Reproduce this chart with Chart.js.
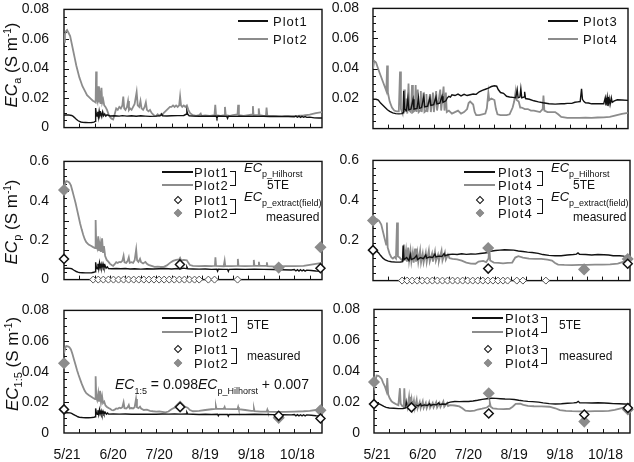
<!DOCTYPE html>
<html>
<head>
<meta charset="utf-8">
<script src="https://cdn.jsdelivr.net/npm/chart.js@4.4.1/dist/chart.umd.min.js"></script>
<style>
body { margin:0; width:634px; height:462px; position:relative; overflow:hidden; background:#fff;
       font-family:"Liberation Sans", Arial, sans-serif; color:#111; }
canvas { position:absolute; }
.t { position:absolute; line-height:1; white-space:nowrap; transform:translateY(-50%); font-size:13px; }
.pl { letter-spacing:1px; }
.ln { position:absolute; height:0; border-top:2px solid; }
.br { position:absolute; width:5px; border:1.5px solid #111; border-left:none; }
.dm { position:absolute; width:6px; height:6px; transform:translate(-50%,-50%) rotate(45deg); box-sizing:border-box; }
.yt { position:absolute; font-size:17px; line-height:1; white-space:nowrap; transform:translate(-50%,-50%) rotate(-90deg); }
.sb { font-size:11px; position:relative; top:4px; }
.sp { font-size:10px; position:relative; top:-6px; }
.ss { font-size:9px; position:relative; top:5px; }
</style>
</head>
<body>
<canvas id="tl"></canvas>
<canvas id="tr"></canvas>
<canvas id="ml"></canvas>
<canvas id="mr"></canvas>
<canvas id="bl"></canvas>
<canvas id="br"></canvas>
<script>
// days counted from 5/21
const dateDays = [0, 30, 60, 90, 120, 150];
const dateLabels = ['5/21', '6/20', '7/20', '8/19', '9/18', '10/18'];
const ecTicks = ['0', '0.02', '0.04', '0.06', '0.08'];
const ecTicksNoZero = ['', '0.02', '0.04', '0.06', '0.08'];
const ecpTicks = ['0', '0.2', '0.4', '0.6'];
const ecpTicksNoZero = ['', '0.2', '0.4', '0.6'];

/* ===== ECa ===== */
const ecaPlot1 = [[0,0.0084],[1,0.0086],[2,0.0085],[3,0.0086],[4,0.0084],[5,0.0082],[6,0.0076],[7,0.0066],[8,0.0056],[9,0.0048],[10,0.0042],[11,0.0038],[12,0.0036],[14,0.0035],[16,0.0034],[18,0.0035],[19.5,0.0037],[20.3,0.0042],[20.6,0.0132],[21,0.0095],[21.5,0.0078],[22,0.0108],[22.4,0.0072],[22.9,0.0112],[23.4,0.0080],[24,0.0098],[24.6,0.0074],[25.2,0.0106],[25.8,0.0080],[26.5,0.0092],[27.2,0.0078],[28,0.0086],[30,0.0079],[33,0.0080],[36,0.0078],[38,0.0081],[41,0.0078],[44,0.0080],[47,0.0077],[50,0.0080],[53,0.0078],[56,0.0076],[60,0.0078],[63,0.0081],[63.6,0.0092],[64.2,0.0080],[67,0.0079],[70,0.0080],[74,0.0081],[78,0.0082],[79.5,0.0090],[80,0.0112],[80.6,0.0090],[81.5,0.0080],[84,0.0078],[88,0.0077],[92,0.0078],[96,0.0077],[99,0.0078],[99.6,0.0064],[100.2,0.0078],[103,0.0077],[106,0.0076],[106.5,0.0063],[107,0.0077],[110,0.0076],[114,0.0077],[118,0.0076],[122,0.0077],[126,0.0076],[130,0.0077],[134,0.0075],[138,0.0076],[142,0.0074],[146,0.0075],[150,0.0073],[151,0.0078],[152,0.0070],[153,0.0077],[154,0.0069],[155,0.0076],[156,0.0070],[157,0.0075],[158,0.0069],[160,0.0071],[163,0.0066],[166,0.0065],[168,0.0065]];
const ecaPlot2 = [[0,0.058],[0.6,0.063],[1.2,0.065],[2,0.066],[3,0.064],[4,0.062],[5,0.057],[6,0.052],[7,0.047],[8,0.042],[9,0.038],[10,0.034],[11,0.031],[12,0.028],[13,0.026],[14,0.024],[15,0.022],[16,0.021],[17,0.020],[18,0.019],[19,0.018],[20,0.0175],[20.6,0.017],[20.9,0.038],[21.3,0.020],[21.8,0.018],[22.3,0.028],[22.7,0.017],[23.3,0.022],[23.8,0.016],[24.4,0.027],[24.9,0.017],[25.5,0.019],[26.2,0.015],[27,0.014],[28,0.012],[29,0.009],[30,0.007],[31,0.006],[32,0.0055],[33,0.009],[34,0.013],[35,0.012],[36,0.014],[37,0.013],[38,0.015],[38.6,0.021],[39.2,0.013],[40,0.012],[41,0.014],[41.7,0.018],[42.3,0.012],[43,0.013],[44,0.012],[45,0.014],[46,0.016],[47.3,0.024],[48,0.015],[49,0.014],[49.8,0.018],[50.5,0.013],[51.5,0.012],[52.5,0.014],[53.3,0.017],[54,0.012],[55,0.011],[56,0.012],[57,0.010],[58,0.009],[59,0.008],[60,0.008],[61,0.009],[62,0.008],[63,0.009],[64,0.0085],[65,0.010],[66,0.011],[67,0.012],[68,0.013],[69,0.014],[70,0.014],[71,0.015],[72,0.014],[73,0.015],[74,0.014],[75,0.015],[75.6,0.021],[76.2,0.015],[77,0.014],[78,0.015],[79,0.014],[80,0.015],[81,0.012],[82,0.010],[83,0.009],[84,0.0085],[86,0.008],[88,0.0085],[89,0.0095],[89.5,0.008],[92,0.0082],[95,0.008],[98,0.0085],[98.5,0.0155],[99,0.0085],[102,0.008],[104.4,0.0085],[104.8,0.014],[105.3,0.0085],[108,0.008],[110,0.0085],[113,0.009],[113.4,0.0155],[113.9,0.0085],[117,0.008],[120,0.0085],[122.7,0.009],[123,0.0145],[123.4,0.0085],[126.4,0.0085],[126.8,0.013],[127.3,0.0085],[130,0.008],[131.5,0.008],[131.9,0.0135],[132.4,0.008],[136,0.008],[140,0.0078],[144,0.008],[148,0.0078],[152,0.008],[156,0.0082],[160,0.0088],[164,0.0098],[168,0.0105]];
const ecaPlot3 = [[0,0.0195],[2,0.0195],[3.5,0.019],[5,0.017],[6.5,0.0155],[8,0.014],[9.5,0.0125],[11,0.0115],[13,0.0105],[15,0.0100],[17,0.0098],[19,0.0100],[19.8,0.0105],[20.2,0.0250],[20.8,0.0130],[22,0.0120],[23,0.0200],[23.6,0.0125],[25,0.0130],[26.4,0.0195],[27,0.0130],[29,0.0135],[30,0.0205],[30.6,0.0135],[32,0.0140],[33.5,0.0215],[34.1,0.0145],[36,0.0150],[37.5,0.0205],[38.1,0.0155],[40,0.0160],[41.5,0.0210],[42.1,0.0165],[44,0.0170],[45.5,0.0215],[46.1,0.0175],[48,0.0185],[49,0.0205],[50,0.0215],[51,0.0210],[52,0.0225],[54,0.0220],[56,0.0230],[58,0.0218],[60,0.0228],[62,0.0220],[64,0.0225],[66,0.0230],[68,0.0228],[70,0.0245],[72,0.0255],[74,0.0262],[76,0.0270],[78,0.0280],[80,0.0285],[81.5,0.0282],[82.5,0.0260],[84,0.0240],[86,0.0235],[88,0.0215],[90,0.0210],[92,0.0208],[94,0.0205],[95,0.0260],[95.6,0.0205],[96.8,0.0210],[97.4,0.0265],[98,0.0205],[99.5,0.0210],[99.9,0.0245],[100.5,0.0200],[103,0.0195],[106,0.0185],[109,0.0178],[112,0.0172],[116,0.0165],[120,0.0163],[124,0.0165],[126,0.0165],[128,0.0168],[131,0.0168],[133,0.0175],[135,0.0178],[136.5,0.0180],[137.4,0.0265],[138,0.0195],[139,0.0180],[140,0.0172],[142,0.0170],[144,0.0165],[148,0.0165],[152,0.0165],[153,0.0205],[153.5,0.0155],[154.3,0.0210],[154.8,0.0150],[155.6,0.0200],[156.2,0.0160],[157,0.0205],[157.6,0.0175],[159,0.0185],[161,0.0192],[164,0.0190],[168,0.0188]];
const ecaPlot4 = [[0,0.040],[0.8,0.045],[2,0.044],[3,0.041],[4.4,0.037],[5.5,0.034],[6.6,0.031],[7.7,0.028],[8.8,0.025],[9.3,0.042],[9.8,0.024],[11,0.018],[12.5,0.014],[14,0.012],[15.5,0.0115],[17,0.0115],[17.8,0.038],[18.4,0.013],[19.5,0.010],[20.5,0.026],[21,0.011],[22,0.020],[22.6,0.010],[23.4,0.030],[24,0.012],[25,0.011],[25.7,0.029],[26.3,0.011],[27.5,0.012],[28.1,0.029],[28.7,0.011],[29.5,0.026],[30.1,0.011],[31,0.012],[31.5,0.025],[32.1,0.011],[33.3,0.024],[33.9,0.011],[35,0.012],[35.2,0.023],[35.8,0.011],[37.5,0.023],[38.1,0.011],[39.5,0.024],[40.1,0.011],[41.6,0.025],[42.2,0.012],[44.3,0.026],[44.9,0.012],[46.5,0.028],[47.1,0.012],[48,0.024],[48.6,0.011],[50,0.012],[52,0.010],[54,0.011],[56,0.012],[58,0.010],[60,0.011],[62,0.013],[63,0.017],[64,0.018],[66,0.016],[67,0.011],[68,0.009],[70,0.009],[72,0.0095],[74,0.010],[75,0.0135],[76,0.024],[76.6,0.019],[78,0.020],[80,0.019],[81,0.013],[82,0.0095],[84,0.009],[86,0.009],[88,0.009],[90,0.0095],[92,0.014],[93,0.018],[94,0.025],[94.6,0.019],[96,0.018],[97,0.014],[98,0.014],[100,0.013],[102,0.013],[104,0.012],[106,0.012],[110,0.011],[111.8,0.013],[112.3,0.022],[112.9,0.012],[115,0.011],[120,0.011],[122,0.0095],[124,0.0078],[128,0.0072],[132,0.0072],[136,0.0072],[140,0.0073],[144,0.0072],[148,0.0074],[152,0.0075],[156,0.0078],[160,0.0088],[164,0.0098],[168,0.0105]];

/* ===== ECp ===== */
const ecpPlot1 = [[0,0.056],[2,0.058],[4,0.057],[5,0.055],[6,0.050],[7,0.045],[8,0.041],[9,0.038],[10,0.036],[12,0.035],[14,0.034],[16,0.034],[18,0.035],[19.5,0.037],[20.3,0.040],[20.6,0.088],[21,0.065],[21.6,0.055],[22.1,0.080],[22.6,0.055],[23.1,0.085],[23.6,0.060],[24.2,0.078],[24.7,0.058],[25.4,0.080],[26,0.060],[26.7,0.072],[27.4,0.058],[28.2,0.065],[29,0.056],[31,0.055],[34,0.056],[37,0.055],[40,0.056],[43,0.054],[46,0.055],[50,0.053],[54,0.055],[58,0.054],[62,0.055],[66,0.056],[70,0.054],[74,0.056],[76,0.055],[78,0.058],[79.5,0.056],[80,0.065],[80.6,0.055],[84,0.054],[88,0.053],[92,0.054],[96,0.052],[99.5,0.053],[100,0.043],[100.5,0.053],[104,0.052],[106.5,0.052],[107,0.042],[107.5,0.052],[112,0.053],[118,0.052],[124,0.053],[130,0.052],[136,0.051],[142,0.050],[148,0.049],[150,0.051],[151,0.044],[152,0.050],[153,0.043],[154,0.050],[155,0.044],[156,0.049],[157,0.043],[158,0.048],[161,0.046],[164,0.044],[168,0.043]];
const ecpPlot2 = [[0,0.465],[0.8,0.490],[1.5,0.500],[2.5,0.498],[3.5,0.492],[4.5,0.478],[5.5,0.450],[6.5,0.420],[7.5,0.390],[8.5,0.355],[9.5,0.320],[10.5,0.285],[11.5,0.255],[12.5,0.228],[13.5,0.205],[14.5,0.190],[16,0.178],[17.5,0.172],[19,0.165],[20.2,0.160],[20.6,0.302],[21,0.175],[21.6,0.160],[22.3,0.220],[22.8,0.145],[23.5,0.184],[24.1,0.140],[24.8,0.210],[25.4,0.140],[26,0.170],[26.8,0.120],[27.8,0.100],[29,0.090],[30,0.080],[31,0.074],[32,0.070],[33,0.078],[34,0.088],[35,0.084],[36,0.090],[37,0.088],[38,0.095],[38.8,0.121],[39.4,0.088],[40.5,0.085],[41.5,0.095],[42.2,0.113],[42.8,0.085],[44,0.088],[45,0.085],[46,0.098],[47,0.153],[47.6,0.098],[48.5,0.090],[49.5,0.105],[50.2,0.088],[51.5,0.082],[53,0.090],[54,0.080],[55,0.075],[57,0.070],[59,0.065],[61,0.066],[63,0.064],[65,0.065],[67,0.072],[69,0.085],[71,0.095],[73,0.100],[75,0.102],[75.6,0.110],[76.3,0.098],[78,0.100],[80,0.098],[81,0.085],[82,0.074],[84,0.070],[88,0.068],[92,0.070],[96,0.068],[98.3,0.070],[98.6,0.113],[99,0.070],[104,0.068],[104.6,0.095],[105,0.068],[109,0.068],[112.8,0.070],[113.2,0.105],[113.6,0.070],[118,0.068],[123.2,0.070],[123.6,0.100],[124,0.070],[126.5,0.070],[126.9,0.090],[127.3,0.070],[131.7,0.070],[132.1,0.088],[132.5,0.068],[138,0.066],[144,0.068],[150,0.068],[156,0.070],[160,0.075],[164,0.080],[168,0.085]];
const ecpPlot3 = [[0,0.150],[2,0.148],[3.5,0.140],[5,0.125],[6.5,0.112],[8,0.103],[10,0.097],[12,0.094],[15,0.092],[18,0.093],[19.3,0.095],[19.7,0.175],[20.3,0.105],[22,0.115],[23.5,0.100],[24.4,0.130],[25,0.105],[27,0.112],[28.5,0.125],[29.1,0.105],[31,0.115],[33,0.110],[34.5,0.128],[35.1,0.112],[37,0.118],[39,0.115],[40.5,0.132],[41.1,0.118],[43,0.122],[45,0.120],[46.5,0.135],[47.1,0.124],[48.5,0.128],[50,0.130],[52,0.132],[55,0.130],[58,0.134],[61,0.131],[64,0.133],[67,0.132],[70,0.135],[73,0.138],[75,0.140],[76,0.146],[78,0.148],[80,0.150],[83,0.152],[86,0.154],[89,0.153],[92,0.152],[95,0.148],[98,0.145],[101,0.142],[104,0.140],[108,0.136],[111,0.130],[115,0.126],[119,0.124],[123,0.124],[127,0.128],[131,0.130],[133,0.132],[134,0.138],[135,0.131],[139,0.130],[143,0.128],[147,0.130],[151,0.129],[154,0.128],[157,0.124],[161,0.124],[164,0.122],[168,0.121]];
const ecpPlot4 = [[0,0.290],[1,0.305],[2.5,0.306],[4,0.298],[5.4,0.280],[6.5,0.245],[7.6,0.210],[8.6,0.180],[9.1,0.290],[9.6,0.165],[10.8,0.135],[12,0.116],[13,0.110],[14,0.118],[15,0.110],[15.7,0.290],[16.3,0.120],[17.4,0.115],[18.5,0.105],[19.5,0.100],[20.2,0.180],[20.8,0.100],[21.6,0.150],[22.2,0.095],[23,0.165],[23.6,0.100],[24.5,0.150],[25.1,0.095],[26,0.140],[26.6,0.090],[27.5,0.160],[28.1,0.095],[29,0.140],[29.6,0.092],[30.8,0.150],[31.4,0.090],[32.5,0.135],[33.1,0.090],[34.5,0.140],[35.1,0.092],[36.5,0.150],[37.1,0.095],[38.6,0.135],[39.2,0.095],[40.5,0.145],[41.1,0.098],[42.5,0.130],[43.1,0.098],[44.8,0.150],[45.4,0.100],[47,0.140],[47.6,0.105],[49,0.130],[50,0.112],[52,0.108],[55,0.106],[58,0.100],[61,0.090],[64,0.085],[67,0.084],[69,0.095],[72,0.098],[74,0.092],[75.5,0.110],[76,0.165],[76.6,0.100],[79,0.090],[82,0.088],[85,0.086],[88,0.088],[91,0.090],[93,0.115],[95,0.122],[98,0.115],[102,0.110],[106,0.108],[110,0.108],[114,0.105],[117,0.100],[119,0.088],[121,0.080],[125,0.078],[130,0.077],[135,0.078],[140,0.078],[145,0.080],[150,0.080],[155,0.081],[160,0.085],[164,0.095],[168,0.108]];
const ecpMeasPlot1 = [[0,0.105],[75.5,0.077],[167,0.058]];
const ecpMeasPlot2 = [[0,0.455],[139.8,0.061],[167,0.164]];
const ecpMeasPlot3 = [[0,0.152],[75.3,0.060],[166.5,0.084]];
const ecpMeasPlot4 = [[0,0.300],[75.3,0.163],[138,0.056],[166.5,0.108]];
const zeroDays = [19,22.3,25.6,28.9,32.2,35.5,38.8,42.1,45.4,48.7,52,55.3,58.6,61.9,65.2,68.5,71.8,75.1,78.4,81.7,85,88,94,98,113];

/* ===== EC1:5 ===== */
const ec15Plot1 = [[0,0.0130],[2,0.0132],[4,0.0131],[5,0.0128],[6,0.0122],[7,0.0116],[8,0.0111],[9,0.0106],[10,0.0103],[12,0.0101],[14,0.0100],[16,0.0100],[18,0.0101],[19.5,0.0103],[20.3,0.0106],[20.6,0.0160],[21,0.0135],[21.6,0.0122],[22.1,0.0148],[22.6,0.0120],[23.1,0.0152],[23.6,0.0125],[24.2,0.0145],[24.7,0.0122],[25.4,0.0142],[26,0.0124],[26.8,0.0135],[27.6,0.0123],[28.4,0.0130],[29,0.0123],[32,0.0124],[36,0.0123],[40,0.0124],[44,0.0122],[48,0.0123],[52,0.0122],[56,0.0123],[60,0.0122],[64,0.0124],[68,0.0123],[72,0.0124],[76,0.0123],[79.5,0.0124],[80,0.0135],[80.6,0.0123],[84,0.0122],[88,0.0121],[92,0.0122],[96,0.0121],[100,0.0122],[100.5,0.0112],[101,0.0121],[106.5,0.0121],[107,0.0110],[107.5,0.0121],[112,0.0121],[118,0.0121],[124,0.0122],[130,0.0121],[136,0.0120],[142,0.0119],[148,0.0118],[150,0.0121],[151,0.0112],[152,0.0120],[153,0.0112],[154,0.0119],[155,0.0112],[156,0.0119],[157,0.0112],[158,0.0118],[161,0.0116],[164,0.0113],[168,0.0111]];
const ec15Plot2 = [[0,0.0520],[0.8,0.0555],[1.5,0.0567],[2.5,0.0565],[3.5,0.0560],[4.5,0.0545],[5.5,0.0515],[6.5,0.0480],[7.5,0.0445],[8.5,0.0410],[9.5,0.0378],[10.5,0.0350],[11.5,0.0322],[12.5,0.0298],[13.5,0.0275],[14.5,0.0260],[16,0.0248],[17.5,0.0238],[19,0.0228],[20.2,0.0222],[20.6,0.0370],[21,0.0235],[21.6,0.0215],[22.3,0.0260],[22.8,0.0205],[23.5,0.0275],[24.1,0.0200],[24.8,0.0240],[25.4,0.0195],[26.2,0.0205],[27,0.0180],[28,0.0170],[29,0.0163],[30,0.0158],[31,0.0150],[32,0.0148],[33,0.0152],[34,0.0160],[35,0.0158],[36,0.0165],[37,0.0162],[38,0.0168],[38.8,0.0200],[39.4,0.0162],[40.5,0.0160],[41.5,0.0168],[42.2,0.0182],[42.8,0.0160],[44,0.0163],[45,0.0160],[46,0.0168],[46.9,0.0222],[47.5,0.0168],[48.5,0.0162],[49.5,0.0172],[50.2,0.0160],[52,0.0150],[54,0.0152],[56,0.0145],[58,0.0142],[60,0.0140],[62,0.0141],[64,0.0138],[66,0.0135],[68,0.0140],[70,0.0155],[72,0.0165],[74,0.0170],[75.6,0.0172],[77,0.0168],[79,0.0170],[80.5,0.0165],[82,0.0150],[84,0.0142],[88,0.0145],[92,0.0150],[96,0.0155],[98.5,0.0158],[98.9,0.0175],[99.3,0.0157],[104,0.0157],[104.6,0.0170],[105,0.0157],[110,0.0156],[113,0.0156],[113.4,0.0170],[113.8,0.0155],[118,0.0150],[122,0.0145],[123.3,0.0145],[123.7,0.0160],[124.1,0.0143],[128,0.0140],[132,0.0140],[132.4,0.0152],[132.8,0.0139],[138,0.0138],[144,0.0138],[150,0.0140],[156,0.0142],[160,0.0145],[164,0.0150],[168,0.0152]];
const ec15Plot3 = [[0,0.0190],[2,0.0192],[3.5,0.0188],[5,0.0180],[6.5,0.0172],[8,0.0166],[10,0.0162],[13,0.0160],[16,0.0158],[19,0.0159],[20.8,0.0162],[21.2,0.0200],[21.8,0.0168],[23,0.0178],[24.5,0.0172],[25.2,0.0192],[25.8,0.0172],[27.5,0.0180],[29,0.0175],[30.5,0.0188],[31.1,0.0175],[33,0.0182],[35,0.0178],[36.5,0.0190],[37.1,0.0178],[39,0.0185],[41,0.0182],[42.5,0.0195],[43.1,0.0184],[45,0.0188],[47,0.0186],[48.5,0.0195],[50,0.0200],[53,0.0204],[56,0.0203],[59,0.0205],[62,0.0204],[65,0.0207],[68,0.0212],[71,0.0218],[74,0.0222],[77,0.0225],[80,0.0224],[83,0.0222],[86,0.0220],[89,0.0219],[92,0.0217],[95,0.0212],[98,0.0208],[101,0.0205],[104,0.0203],[108,0.0200],[111,0.0195],[115,0.0190],[119,0.0188],[123,0.0189],[127,0.0193],[131,0.0195],[133,0.0197],[134,0.0205],[135,0.0196],[139,0.0195],[143,0.0194],[147,0.0196],[151,0.0194],[154,0.0193],[157,0.0190],[161,0.0189],[164,0.0188],[168,0.0187]];
const ec15Plot4 = [[0,0.0275],[0.8,0.0330],[1.7,0.0372],[3,0.0370],[4,0.0362],[5,0.0350],[6,0.0325],[7.2,0.0300],[8.2,0.0270],[8.7,0.0355],[9.3,0.0250],[10.3,0.0225],[11.5,0.0205],[13,0.0195],[14.8,0.0185],[16,0.0180],[17,0.0290],[17.5,0.0190],[18.5,0.0175],[19.5,0.0170],[19.9,0.0290],[20.4,0.0175],[21.4,0.0190],[22,0.0165],[23,0.0235],[23.6,0.0165],[24.6,0.0220],[25.2,0.0162],[26.2,0.0210],[26.8,0.0160],[28,0.0215],[28.6,0.0160],[30,0.0200],[30.6,0.0160],[32,0.0205],[32.6,0.0162],[34,0.0195],[34.6,0.0160],[36.2,0.0200],[36.8,0.0162],[38.5,0.0195],[39.1,0.0165],[40.8,0.0200],[41.4,0.0165],[43,0.0195],[43.6,0.0168],[45.5,0.0205],[46.1,0.0170],[48,0.0195],[48.6,0.0175],[50,0.0180],[53,0.0178],[56,0.0172],[58,0.0160],[60,0.0145],[63,0.0142],[66,0.0145],[68,0.0152],[71,0.0158],[74,0.0165],[75.5,0.0175],[76,0.0198],[76.6,0.0170],[78,0.0160],[81,0.0156],[85,0.0155],[89,0.0157],[91,0.0170],[93,0.0188],[96,0.0190],[98,0.0182],[101,0.0175],[105,0.0173],[110,0.0172],[115,0.0170],[119,0.0160],[122,0.0148],[126,0.0143],[130,0.0141],[135,0.0140],[140,0.0140],[145,0.0141],[150,0.0142],[154,0.0143],[158,0.0150],[162,0.0160],[165,0.0167],[168,0.0170]];
const ec15MeasPlot1 = [[0,0.0154],[75.6,0.0170],[139.8,0.0112],[167,0.0095]];
const ec15MeasPlot2 = [[0,0.0455],[75.6,0.0172],[139.8,0.0099],[167,0.0148]];
const ec15MeasPlot3 = [[0,0.0187],[24.6,0.0166],[75.3,0.0126],[138,0.0120],[166.6,0.0162]];
const ec15MeasPlot4 = [[0,0.0330],[24.6,0.0170],[75.3,0.0257],[138,0.0074],[166.6,0.0152]];

const BLACK = '#111';
const GRAY = '#8c8c8c';
const FONT = '"Liberation Sans", Arial, sans-serif';

/* ===== frame + inward ticks ===== */
const frame = {
    id: 'frame',
    beforeDatasetsDraw(chart, args, opts) {
        const { ctx, chartArea: a, scales: { x, y } } = chart;
        ctx.save();
        ctx.strokeStyle = BLACK;
        ctx.lineWidth = 1.4;
        ctx.strokeRect(a.left, a.top, a.right - a.left, a.bottom - a.top);
        ctx.lineWidth = 1;
        ctx.beginPath();
        for (let d = 10; d < x.max; d += 10) {
            const px = Math.round(x.getPixelForValue(d)) + 0.5;
            ctx.moveTo(px, a.bottom);
            ctx.lineTo(px, a.bottom - 4);
        }
        const n = Math.round(y.max / opts.minor);
        for (let i = 1; i < n; i++) {
            const py = Math.round(y.getPixelForValue(i * opts.minor)) + 0.5;
            const len = i % 4 === 0 ? 5 : 3;
            ctx.moveTo(a.left, py);
            ctx.lineTo(a.left + len, py);
        }
        ctx.stroke();
        ctx.restore();
    }
};

const pts = arr => arr.map(([x, y]) => ({ x, y }));

function lineSet(arr, color, width, order) {
    return { data: pts(arr), borderColor: color, borderWidth: width, pointRadius: 0, tension: 0, order };
}

function markSet(arr, fill, border, radius, order) {
    return {
        data: pts(arr), showLine: false, pointStyle: 'rectRot', pointRadius: radius,
        pointBackgroundColor: fill, pointBorderColor: border, pointBorderWidth: 1.5,
        clip: false, order
    };
}

function panel(id, box, yMax, yLabels, showDates, datasets) {
    const pad = 12;
    const canvas = document.getElementById(id);
    canvas.width = box.x2 - box.x1 + box.yw + pad;
    canvas.height = box.y2 - box.y1 + pad + box.xh;
    canvas.style.left = (box.x1 - box.yw) + 'px';
    canvas.style.top = (box.y1 - pad) + 'px';
    const yStep = yMax / 4 > 0.1 ? 0.2 : 0.02;

    new Chart(canvas, {
        type: 'line',
        data: { datasets },
        options: {
            responsive: false,
            animation: false,
            devicePixelRatio: 1,
            layout: { padding: { top: pad, right: pad, left: 0, bottom: 0 } },
            plugins: { legend: { display: false }, tooltip: { enabled: false }, frame: { minor: yMax / 16 } },
            scales: {
                x: {
                    type: 'linear', min: 0, max: 168,
                    grid: { display: false }, border: { display: false },
                    afterBuildTicks: s => { s.ticks = dateDays.map(v => ({ value: v })); },
                    ticks: {
                        display: showDates, autoSkip: false, maxRotation: 0, minRotation: 0,
                        padding: 6, labelOffset: 3,
                        color: BLACK, font: { size: 14, family: FONT },
                        callback: (v, i) => dateLabels[i]
                    },
                    afterFit: s => { s.height = box.xh; }
                },
                y: {
                    min: 0, max: yMax,
                    grid: { display: false }, border: { display: false },
                    afterBuildTicks: s => { s.ticks = yLabels.map((l, i) => ({ value: i * yStep })); },
                    ticks: {
                        padding: box.tp,
                        color: BLACK, font: { size: 14, family: FONT },
                        callback: (v, i) => yLabels[i]
                    },
                    afterFit: s => { s.width = box.yw; }
                }
            }
        },
        plugins: [frame]
    });
}

panel('tl', { x1: 64, y1: 6, x2: 322, y2: 133, yw: 64, xh: 10, tp: 7 }, 0.08, ecTicks, false, [
    lineSet(ecaPlot1, BLACK, 1.4, 2), lineSet(ecaPlot2, GRAY, 1.8, 3)
]);
panel('tr', { x1: 373, y1: 6, x2: 628, y2: 133, yw: 50, xh: 10, tp: 6 }, 0.08, ecTicksNoZero, false, [
    lineSet(ecaPlot3, BLACK, 1.4, 2), lineSet(ecaPlot4, GRAY, 1.8, 3)
]);
panel('ml', { x1: 64, y1: 158, x2: 322, y2: 285, yw: 64, xh: 10, tp: 7 }, 0.6, ecpTicks, false, [
    markSet(ecpMeasPlot1, '#fff', BLACK, 4.5, 0), markSet(ecpMeasPlot2, GRAY, GRAY, 5, 1),
    Object.assign(markSet(zeroDays.map(d => [d, 0]), '#fff', '#555', 3.5, 1.5), { pointBorderWidth: 1 }),
    lineSet(ecpPlot1, BLACK, 1.4, 2), lineSet(ecpPlot2, GRAY, 1.8, 3)
]);
panel('mr', { x1: 373, y1: 158, x2: 630, y2: 285, yw: 50, xh: 10, tp: 6 }, 0.6, ecpTicksNoZero, false, [
    markSet(ecpMeasPlot3, '#fff', BLACK, 4.5, 0), markSet(ecpMeasPlot4, GRAY, GRAY, 5, 1),
    Object.assign(markSet(zeroDays.map(d => [d, 0]), '#fff', '#555', 3.5, 1.5), { pointBorderWidth: 1 }),
    lineSet(ecpPlot3, BLACK, 1.4, 2), lineSet(ecpPlot4, GRAY, 1.8, 3)
]);
panel('bl', { x1: 64, y1: 307, x2: 322, y2: 433, yw: 64, xh: 30, tp: 7 }, 0.08, ecTicks, true, [
    markSet(ec15MeasPlot1, '#fff', BLACK, 4.5, 0), markSet(ec15MeasPlot2, GRAY, GRAY, 5, 1),
    lineSet(ec15Plot1, BLACK, 1.4, 2), lineSet(ec15Plot2, GRAY, 1.8, 3)
]);
panel('br', { x1: 374, y1: 307, x2: 630, y2: 433, yw: 50, xh: 30, tp: 6 }, 0.08, ecTicks, true, [
    markSet(ec15MeasPlot3, '#fff', BLACK, 4.5, 0), markSet(ec15MeasPlot4, GRAY, GRAY, 5, 1),
    lineSet(ec15Plot3, BLACK, 1.4, 2), lineSet(ec15Plot4, GRAY, 1.8, 3)
]);

/* ===== legends and labels (html text) ===== */
function el(cls, x, y, html, style) {
    const d = document.createElement('div');
    d.className = cls;
    d.style.left = x + 'px';
    d.style.top = y + 'px';
    if (html) d.innerHTML = html;
    if (style) Object.assign(d.style, style);
    document.body.appendChild(d);
    return d;
}

function sample(x1, x2, y, color) {
    el('ln', x1, y - 1, '', { width: (x2 - x1) + 'px', borderTopColor: color });
}

function bracket(x, y1, y2) {
    el('br', x, y1 - 1, '', { height: (y2 - y1) + 'px' });
}

function diamond(x, y, fill, border) {
    el('dm', x, y, '', { background: fill, border: '1.5px solid ' + border });
}

// top row
sample(238, 268, 21, BLACK); el('t pl', 273, 21, 'Plot1');
sample(238, 268, 39, GRAY); el('t pl', 273, 39, 'Plot2');
sample(548, 578, 21, BLACK); el('t pl', 583, 21, 'Plot3');
sample(548, 578, 39, GRAY); el('t pl', 583, 39, 'Plot4');

function bigLegend(L) {
    sample(L.x0, L.x0 + 31, L.ly[0], BLACK);
    sample(L.x0, L.x0 + 31, L.ly[1], GRAY);
    diamond(L.x0 + 16, L.my[0], '#fff', BLACK);
    diamond(L.x0 + 16, L.my[1], GRAY, GRAY);
    el('t pl', L.tx, L.ly[0], L.names[0]);
    el('t pl', L.tx, L.ly[1], L.names[1]);
    el('t pl', L.tx, L.my[0], L.names[0]);
    el('t pl', L.tx, L.my[1], L.names[1]);
    bracket(L.bx, L.ly[0], L.ly[1]);
    bracket(L.bx, L.my[0], L.my[1]);
    L.notes.forEach(n => el('t', n[0], n[1], n[2], { fontSize: (n[3] || 12) + 'px' }));
}

bigLegend({ x0: 162, tx: 194, bx: 230, ly: [172, 185], my: [200, 213], names: ['Plot1', 'Plot2'], notes: [
    [244, 167, '<i>EC</i><span class="ss">p_Hilhorst</span>', 13],
    [267, 185, '5TE'],
    [244, 196, '<i>EC</i><span class="ss">p_extract(field)</span>', 13],
    [266, 217, 'measured']
] });
bigLegend({ x0: 464, tx: 498, bx: 537, ly: [172, 185], my: [200, 213], names: ['Plot3', 'Plot4'], notes: [
    [551, 167, '<i>EC</i><span class="ss">p_Hilhorst</span>', 13],
    [573, 185, '5TE'],
    [551, 196, '<i>EC</i><span class="ss">p_extract(field)</span>', 13],
    [573, 217, 'measured']
] });
bigLegend({ x0: 162, tx: 194, bx: 231, ly: [318, 332], my: [349, 363], names: ['Plot1', 'Plot2'], notes: [
    [247, 325, '5TE'],
    [247, 356, 'measured']
] });
bigLegend({ x0: 472, tx: 505, bx: 541, ly: [318, 332], my: [349, 363], names: ['Plot3', 'Plot4'], notes: [
    [559, 325, '5TE'],
    [559, 356, 'measured']
] });

// regression note
el('t', 115, 384, '<i>EC</i><span class="ss">1:5</span> = 0.098<i>EC</i><span class="ss">p_Hilhorst</span> + 0.007', { fontSize: '14px' });

// axis titles
el('yt', 11, 65, '<i>EC</i><span class="sb">a</span> (S m<span class="sp">-1</span>)');
el('yt', 11, 222, '<i>EC</i><span class="sb">p</span> (S m<span class="sp">-1</span>)');
el('yt', 12, 364, '<i>EC</i><span class="sb">1:5</span> (S m<span class="sp">-1</span>)');
</script>
</body>
</html>
